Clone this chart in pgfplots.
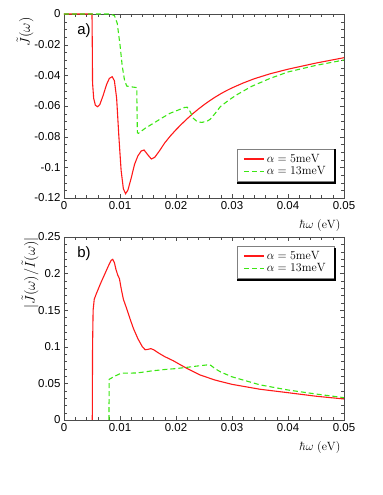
\documentclass[border=0pt]{standalone}
\usepackage[no-math]{fontspec}
\setmainfont{Liberation Sans}
\usepackage{pgfplots}
\pgfplotsset{compat=1.18}
\definecolor{cred}{RGB}{255,25,25}
\definecolor{cgreen}{RGB}{60,230,20}
\begin{document}
\begin{tikzpicture}
\useasboundingbox (0,0) rectangle (383bp,495bp);
\pgfplotsset{
  common/.style={
    scale only axis, width=280bp,
    xmin=0, xmax=0.05,
    xtick={0,0.01,0.02,0.03,0.04,0.05},
    minor x tick num=4,
    scaled ticks=false,
    /pgf/number format/fixed,
    /pgf/number format/assume math mode=true,
    tick label style={font=\fontsize{11.5}{13}\selectfont},
    axis line style={black!70},
    tick style={black!70},
    xlabel={$\hbar\omega\ (\mathrm{eV})$},
    xlabel style={at={(axis description cs:1,0)}, anchor=north east, yshift=-18bp, font=\fontsize{13}{15}\selectfont},
    legend cell align=left,
    legend style={draw=black!50, fill=white, font=\fontsize{11.5}{13}\selectfont,
      inner xsep=6pt, inner ysep=3pt, row sep=-1pt},
    legend image code/.code={\draw[#1] (0cm,0cm) -- (0.72cm,0cm);},
  },
  redline/.style={cred, line width=1.1pt},
  greenline/.style={cgreen, line width=1.1pt, dash pattern=on 5pt off 3pt},
}
% top panel
\begin{axis}[common, height=184bp, at={(64bp,297bp)}, anchor=south west,
  ymin=-0.12, ymax=0,
  ytick={-0.12,-0.1,-0.08,-0.06,-0.04,-0.02,0},
  minor y tick num=3,
  legend style={at={(0.964,0.089)}, anchor=south east}]
\addplot[redline] coordinates {
(0,0) (0.0050,0) (0.00505,-0.02) (0.0051,-0.045) (0.0053,-0.055) (0.0056,-0.0595)
(0.0060,-0.0605) (0.0064,-0.059) (0.0070,-0.053) (0.0076,-0.046) (0.0081,-0.0420)
(0.0086,-0.0409) (0.0090,-0.0435) (0.0094,-0.055) (0.0098,-0.080) (0.0102,-0.102)
(0.0106,-0.114) (0.0110,-0.1172) (0.0114,-0.115) (0.0120,-0.107) (0.0126,-0.098)
(0.0132,-0.0925) (0.0138,-0.0893) (0.0143,-0.0887) (0.0150,-0.0920) (0.0156,-0.0946)
(0.0162,-0.0935) (0.0170,-0.0895) (0.0180,-0.0840) (0.0190,-0.0795) (0.0200,-0.0755)
(0.0210,-0.0718) (0.0220,-0.0683) (0.0230,-0.0650) (0.0240,-0.0620) (0.0250,-0.0592)
(0.0260,-0.0566) (0.0270,-0.0542) (0.0280,-0.0520) (0.0290,-0.0500) (0.0300,-0.0482)
(0.0320,-0.0450) (0.0340,-0.0422) (0.0368,-0.0390) (0.0400,-0.0360) (0.0450,-0.0320)
(0.0500,-0.0285)
};
\addlegendentry{$\alpha=5\mathrm{meV}$}
\addplot[greenline] coordinates {
(0,0) (0.0082,0) (0.0090,-0.001) (0.0095,-0.006) (0.0100,-0.020) (0.0104,-0.034)
(0.0108,-0.043) (0.0112,-0.047) (0.0120,-0.0475) (0.0130,-0.0480) (0.01305,-0.065)
(0.0131,-0.0775) (0.0133,-0.0778) (0.0145,-0.0745) (0.0160,-0.0712) (0.0175,-0.0678)
(0.0189,-0.0648) (0.0205,-0.0625) (0.0215,-0.0610) (0.0220,-0.0608) (0.0225,-0.0635)
(0.0231,-0.0680) (0.0238,-0.0703) (0.0246,-0.0707) (0.0255,-0.0700) (0.0261,-0.0687)
(0.0270,-0.0648) (0.0279,-0.0605) (0.0293,-0.0565) (0.0308,-0.0528) (0.0335,-0.0472)
(0.0368,-0.0420) (0.0400,-0.0378) (0.0450,-0.0335) (0.0500,-0.0300)
};
\addlegendentry{$\alpha=13\mathrm{meV}$}
\node[anchor=west, font=\fontsize{15}{17}\selectfont] at (rel axis cs:0.035,0.91) {a)};
\coordinate (A1) at (rel axis cs:0.964,0.089);
\end{axis}
% bottom panel
\begin{axis}[common, height=183bp, at={(64bp,75bp)}, anchor=south west,
  ymin=0, ymax=0.25,
  ytick={0,0.05,0.1,0.15,0.2,0.25},
  minor y tick num=4,
  legend style={at={(0.964,0.951)}, anchor=north east}]
\addplot[redline] coordinates {
(0.00505,0) (0.0051,0.10) (0.0052,0.150) (0.0054,0.165) (0.0058,0.173) (0.0065,0.186)
(0.0072,0.198) (0.0079,0.210) (0.0084,0.218) (0.0087,0.2195) (0.0090,0.215)
(0.0093,0.205) (0.0096,0.198) (0.0099,0.193) (0.0102,0.180) (0.0106,0.165)
(0.0112,0.152) (0.0118,0.138) (0.0124,0.125) (0.0132,0.111) (0.0140,0.100)
(0.0145,0.0960) (0.0150,0.0965) (0.0155,0.0975) (0.0160,0.0960) (0.0170,0.0910)
(0.0180,0.0865) (0.0195,0.0810) (0.0210,0.0745) (0.0220,0.0703) (0.0243,0.0615)
(0.0270,0.0545) (0.0300,0.0487) (0.0350,0.0420) (0.0400,0.0373) (0.0450,0.0325)
(0.0500,0.0287)
};
\addlegendentry{$\alpha=5\mathrm{meV}$}
\addplot[greenline] coordinates {
(0.00804,0) (0.00805,0.0555) (0.0091,0.0600) (0.0100,0.0632) (0.0105,0.0640)
(0.0130,0.0642) (0.0154,0.0668) (0.0180,0.0690) (0.0201,0.0703) (0.0220,0.0720)
(0.0243,0.0742) (0.0255,0.0752) (0.0262,0.0748) (0.0270,0.0700) (0.0280,0.0655)
(0.0300,0.0590) (0.0350,0.0480) (0.0400,0.0410) (0.0450,0.0355) (0.0500,0.0305)
};
\addlegendentry{$\alpha=13\mathrm{meV}$}
\node[anchor=west, font=\fontsize{15}{17}\selectfont] at (rel axis cs:0.035,0.91) {b)};
\coordinate (B1) at (rel axis cs:0.964,0.951);
\end{axis}
% legend shadows: top legend box anchored at its south east corner A1, bottom at north east B1
\fill[black] ([xshift=0pt,yshift=-2pt]A1) rectangle ([xshift=2pt,yshift=33pt]A1);
\fill[black] ([xshift=-97pt,yshift=-2pt]A1) rectangle ([xshift=2pt,yshift=0pt]A1);
\fill[black] ([xshift=0pt,yshift=-2pt]B1) rectangle ([xshift=2pt,yshift=-35pt]B1);
\fill[black] ([xshift=-97pt,yshift=-35pt]B1) rectangle ([xshift=2pt,yshift=-33pt]B1);
\node[rotate=90, font=\fontsize{15}{17}\selectfont] at (25bp,463bp) {$\tilde{J}(\omega)$};
\node[rotate=90, font=\fontsize{15}{17}\selectfont] at (30bp,222bp) {$|\tilde{J}(\omega)/\tilde{I}(\omega)|$};
\end{tikzpicture}
\end{document}
